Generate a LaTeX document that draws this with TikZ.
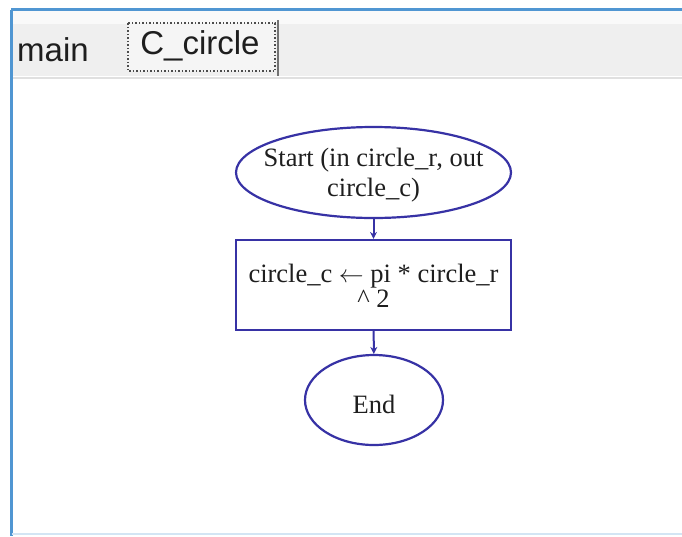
\documentclass[tikz,border=0pt]{standalone}
\usepackage{fontspec}
\setmainfont{Liberation Serif}
\newfontfamily\uifont{Liberation Sans}
\usetikzlibrary{shapes.geometric,arrows.meta}
\definecolor{fcblue}{RGB}{55,50,165}
\definecolor{winblue}{RGB}{80,150,210}
\definecolor{tabgray}{RGB}{239,239,239}
\definecolor{txtdark}{RGB}{30,30,30}
\newcommand{\zerobox}[3]{\raisebox{#1}[0pt][0pt]{\makebox[0pt]{\fontsize{26.5}{#2}\selectfont\begin{tabular}{@{}c@{}}#3\end{tabular}}}}
\tikzset{
  term/.style={ellipse, draw=fcblue, line width=2.2pt, inner sep=0pt, text=txtdark},
  proc/.style={rectangle, draw=fcblue, line width=2.2pt, inner sep=0pt, text=txtdark,
     minimum width=275pt, minimum height=90pt},
  flow/.style={draw=fcblue, line width=2pt, -{Stealth[length=7pt,width=7pt]}},
  tablabel/.style={font=\uifont\fontsize{33}{35}\selectfont, text=txtdark, inner sep=0pt}
}
\begin{document}
\begin{tikzpicture}[x=1pt,y=-1pt]
\useasboundingbox (0,0) rectangle (682,536);
\fill[white] (0,0) rectangle (682,536);
% tab bar
\fill[tabgray] (11,11) rectangle (682,76);
\fill[white!60!tabgray] (11,11) rectangle (682,24);
\draw[black!12, line width=2pt] (11,78) -- (682,78);
% window frame
\draw[winblue, line width=3pt] (11,9.5) -- (682,9.5);
\draw[winblue, line width=3pt] (11,9.5) -- (11,536);
\draw[winblue!25, line width=1.5pt] (12,534) -- (682,534);
% tabs
\node[tablabel] (tmain) at (53,50) {main};
\draw[black!70, line width=1.5pt, dotted, fill=white!40!tabgray] (128,23) rectangle (275,71);
\draw[black!55, line width=2.5pt] (278,20) -- (278,76);
\node[tablabel] (tcircle) at (200,46) {C\_circle};
% flowchart
\node[term, minimum width=275pt, minimum height=91pt] (start) at (373.5,172.5)
  {\zerobox{-9.5pt}{30}{Start (in circle\_r, out\\circle\_c)}};
\node[proc] (calc) at (373.5,285) {\zerobox{-10.5pt}{23}{circle\_c $\leftarrow$ pi * circle\_r\\\^{} 2}};
\node[term, minimum width=138pt, minimum height=90pt] (end) at (374,400) {\zerobox{-14pt}{30}{End}};
\draw[flow] (start) -- (calc);
\draw[flow] (calc) -- (end);
\end{tikzpicture}
\end{document}
